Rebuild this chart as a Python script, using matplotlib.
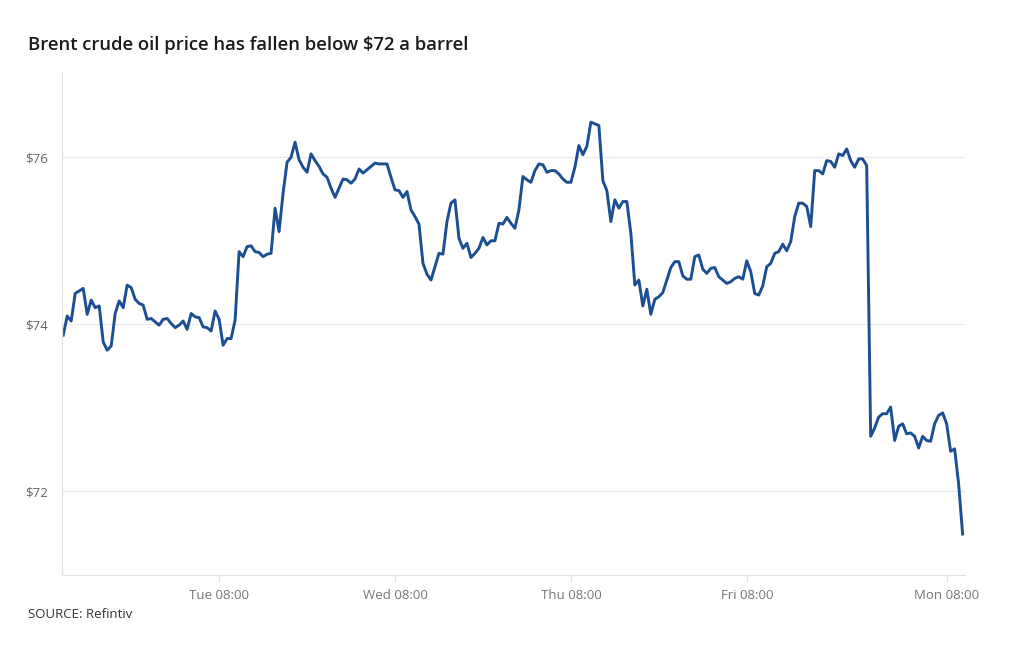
import matplotlib
matplotlib.use("Agg")
import numpy as np
from matplotlib import pyplot as plt

# Brent crude, intraday bars
prices = [
    73.87, 74.10, 74.04, 74.37, 74.40, 74.43, 74.12, 74.29, 74.20, 74.22,
    73.79, 73.69, 73.74, 74.13, 74.28, 74.20, 74.47, 74.44, 74.30, 74.25,
    74.23, 74.06, 74.07, 74.03, 73.99, 74.06, 74.07, 74.01, 73.96, 73.99,
    74.04, 73.94, 74.13, 74.09, 74.08, 73.97, 73.96, 73.92, 74.16, 74.06,
    73.75, 73.83, 73.83, 74.05, 74.87, 74.81, 74.93, 74.94, 74.87, 74.86,
    74.81, 74.84, 74.85, 75.39, 75.11, 75.57, 75.94, 76.00, 76.18, 75.97,
    75.88, 75.82, 76.04, 75.96, 75.89, 75.80, 75.76, 75.63, 75.52, 75.63,
    75.74, 75.73, 75.69, 75.74, 75.86, 75.81, 75.85, 75.89, 75.93, 75.92,
    75.92, 75.92, 75.76, 75.61, 75.60, 75.52, 75.59, 75.37, 75.29, 75.20,
    74.73, 74.60, 74.53, 74.69, 74.85, 74.84, 75.23, 75.45, 75.49, 75.03,
    74.91, 74.97, 74.80, 74.85, 74.91, 75.04, 74.95, 75.00, 75.00, 75.21,
    75.20, 75.28, 75.21, 75.15, 75.37, 75.77, 75.73, 75.70, 75.84, 75.92,
    75.91, 75.82, 75.84, 75.84, 75.80, 75.74, 75.70, 75.70, 75.88, 76.14,
    76.03, 76.13, 76.42, 76.40, 76.38, 75.72, 75.60, 75.23, 75.49, 75.39,
    75.47, 75.47, 75.09, 74.47, 74.53, 74.22, 74.42, 74.12, 74.30, 74.33,
    74.38, 74.53, 74.68, 74.75, 74.75, 74.58, 74.54, 74.54, 74.81, 74.83,
    74.66, 74.61, 74.67, 74.68, 74.57, 74.53, 74.49, 74.51, 74.55, 74.57,
    74.54, 74.76, 74.63, 74.37, 74.35, 74.46, 74.69, 74.73, 74.85, 74.87,
    74.96, 74.88, 74.99, 75.29, 75.45, 75.45, 75.41, 75.17, 75.84, 75.84,
    75.80, 75.96, 75.95, 75.88, 76.04, 76.02, 76.10, 75.96, 75.88, 75.98,
    75.98, 75.90, 72.66, 72.76, 72.89, 72.93, 72.93, 73.01, 72.61, 72.78,
    72.81, 72.69, 72.70, 72.66, 72.52, 72.66, 72.61, 72.60, 72.81, 72.91,
    72.94, 72.81, 72.48, 72.51, 72.09, 71.49,
]

tick_idx = [39, 83, 127, 171, 221]
tick_labels = ["Tue 08:00", "Wed 08:00", "Thu 08:00", "Fri 08:00", "Mon 08:00"]
y_ticks = [72, 74, 76]

plt.rcParams['font.family'] = ['Open Sans', 'DejaVu Sans']

fig = plt.figure(figsize=(10.2, 6.5), dpi=100)
ax = fig.add_axes([0.0608, 0.1154, 0.8853, 0.7738])

x = np.arange(len(prices))
ax.plot(x, prices, color='#1c4e92', linewidth=2.1, solid_joinstyle='round')

ax.set_xlim(-0.3, 225.6)
ax.set_ylim(71, 77.02)

ax.set_yticks(y_ticks)
ax.set_yticklabels([f"${v}" for v in y_ticks])
ax.set_xticks(tick_idx)
ax.set_xticklabels(tick_labels)

ax.grid(axis='y', color='#ebebeb', linewidth=0.9)
ax.set_axisbelow(True)
for s in ['top', 'right']:
    ax.spines[s].set_visible(False)
for s in ['left', 'bottom']:
    ax.spines[s].set_color('#e3e3e3')
    ax.spines[s].set_linewidth(0.9)

ax.tick_params(axis='y', length=0, pad=10, labelsize=9.5, labelcolor='#666666')
ax.tick_params(axis='x', length=5, width=0.8, color='#e3e3e3', pad=5,
               labelsize=9.5, labelcolor='#777777')

fig.text(0.0275, 0.931, "Brent crude oil price has fallen below $72 a barrel",
         fontsize=13.3, fontweight='semibold', color='#1a1a1a', va='center')
fig.text(0.0275, 0.054, "SOURCE: Refintiv", fontsize=9.5, color='#333333', va='center')

fig.savefig("out.png", dpi=100)
